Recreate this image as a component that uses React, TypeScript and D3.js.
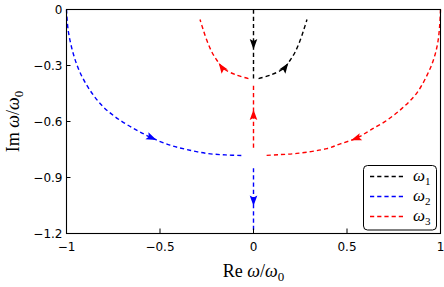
import { useEffect, useRef } from 'react';
import * as d3 from 'd3';

type Pt = [number, number];

// axis ticks
const xTicks = [-1, -0.5, 0, 0.5, 1];
const yTicks = [0, -0.3, -0.6, -0.9, -1.2];

// omega_1 (black)
const omega1Vertical: Pt[] = [[0, 0], [0, -0.37]];
const omega1Arc: Pt[] = [
  [0.027, -0.37], [0.089, -0.352], [0.161, -0.316], [0.196, -0.272],
  [0.223, -0.227], [0.25, -0.164], [0.271, -0.102], [0.286, -0.054],
];

// omega_2 (blue)
const omega2Arc: Pt[] = [
  [-1, 0], [-0.991, -0.111], [-0.964, -0.236], [-0.929, -0.334], [-0.875, -0.432],
  [-0.803, -0.522], [-0.714, -0.593], [-0.625, -0.646], [-0.544, -0.688],
  [-0.446, -0.727], [-0.357, -0.75], [-0.25, -0.771], [-0.15, -0.779], [-0.062, -0.782],
];
const omega2Vertical: Pt[] = [[0, -0.85], [0, -1.2]];

// omega_3 (red)
const omega3Arc: Pt[] = [
  [1, 0], [0.996, -0.08], [0.985, -0.18], [0.964, -0.265], [0.929, -0.35],
  [0.875, -0.445], [0.803, -0.522], [0.714, -0.593], [0.625, -0.646],
  [0.554, -0.688], [0.464, -0.72], [0.393, -0.745], [0.232, -0.771],
  [0.13, -0.778], [0.063, -0.782],
];
const omega3Vertical: Pt[] = [[0, -0.74], [0, -0.4]];
const omega3LeftArc: Pt[] = [
  [-0.027, -0.37], [-0.089, -0.352], [-0.161, -0.316], [-0.196, -0.272],
  [-0.223, -0.227], [-0.25, -0.164], [-0.271, -0.102], [-0.286, -0.054],
];

const seriesNames = ['1', '2', '3'];
const seriesColors = ['#000000', '#0000ff', '#ff0000'];

const App = () => {
  const svgRef = useRef<SVGSVGElement | null>(null);

  useEffect(() => {
    if (!svgRef.current) return;
    const svg = d3.select(svgRef.current);
    svg.selectAll('*').remove();

    const width = 444;
    const height = 287;
    const left = 66.5, right = 440.5, top = 9.5, bottom = 233.5;

    const x = d3.scaleLinear().domain([-1, 1]).range([left, right]);
    const y = d3.scaleLinear().domain([-1.2, 0]).range([bottom, top]);

    svg.attr('width', width).attr('height', height);

    const line = d3.line<Pt>()
      .x((d) => x(d[0]))
      .y((d) => y(d[1]))
      .curve(d3.curveCatmullRom.alpha(0.5));

    // curves drawn in travel direction, arrow tip at a fraction of the length
    const curves = [
      { pts: omega1Vertical, color: seriesColors[0], at: 0.58 },
      { pts: omega1Arc, color: seriesColors[0], at: 0.42 },
      { pts: omega2Arc, color: seriesColors[1], at: 0.66 },
      { pts: omega2Vertical, color: seriesColors[1], at: 0.58 },
      { pts: omega3Arc, color: seriesColors[2], at: 0.66 },
      { pts: omega3Vertical, color: seriesColors[2], at: 0.6 },
      { pts: omega3LeftArc, color: seriesColors[2], at: 0.42 },
    ];

    const plot = svg.append('g');
    curves.forEach((c) => {
      const path = plot.append('path')
        .attr('d', line(c.pts) || '')
        .attr('fill', 'none')
        .attr('stroke', c.color)
        .attr('stroke-width', 1.4)
        .attr('stroke-dasharray', '4.2,3');

      const node = path.node() as SVGPathElement;
      const len = node.getTotalLength();
      const p = node.getPointAtLength(len * c.at);
      const q = node.getPointAtLength(Math.max(0, len * c.at - 2));
      const ang = Math.atan2(p.y - q.y, p.x - q.x) * 180 / Math.PI;
      plot.append('path')
        .attr('d', 'M0,0 L-10.5,-3.8 L-8.5,0 L-10.5,3.8 Z')
        .attr('fill', c.color)
        .attr('transform', `translate(${p.x},${p.y}) rotate(${ang})`);
    });

    // frame
    svg.append('rect')
      .attr('x', left).attr('y', top)
      .attr('width', right - left).attr('height', bottom - top)
      .attr('fill', 'none')
      .attr('stroke', '#000')
      .attr('stroke-width', 1.1);

    const tickFont = '"DejaVu Sans", sans-serif';
    const fmt = (v: number) => (v === 0 ? '0' : (v < 0 ? '\u2212' : '') + String(Math.abs(v)));

    // bottom ticks
    xTicks.forEach((t) => {
      svg.append('line')
        .attr('x1', x(t)).attr('x2', x(t))
        .attr('y1', bottom).attr('y2', bottom - 5)
        .attr('stroke', '#000').attr('stroke-width', 1);
      svg.append('text')
        .attr('x', x(t)).attr('y', bottom + 17)
        .attr('text-anchor', 'middle')
        .attr('font-family', tickFont)
        .attr('font-size', '12px')
        .text(fmt(t));
    });

    // left ticks
    yTicks.forEach((t) => {
      svg.append('line')
        .attr('x1', left).attr('x2', left + 4)
        .attr('y1', y(t)).attr('y2', y(t))
        .attr('stroke', '#000').attr('stroke-width', 1);
      svg.append('text')
        .attr('x', left - 4).attr('y', y(t) + 4.5)
        .attr('text-anchor', 'end')
        .attr('font-family', tickFont)
        .attr('font-size', '12px')
        .text(fmt(t));
    });

    const serif = '"Liberation Serif", "Times New Roman", serif';

    const axisTitle = (g: d3.Selection<SVGTextElement, unknown, null, undefined>, prefix: string) => {
      g.attr('font-family', serif).attr('font-size', '18px').attr('text-anchor', 'middle');
      g.append('tspan').text(prefix + ' ');
      g.append('tspan').attr('font-style', 'italic').text('\u03c9');
      g.append('tspan').text('/');
      g.append('tspan').attr('font-style', 'italic').text('\u03c9');
      g.append('tspan').attr('font-size', '13px').attr('dy', 4).text('0');
    };

    axisTitle(svg.append('text').attr('x', (left + right) / 2).attr('y', 276.5), 'Re');
    axisTitle(
      svg.append('text').attr('transform', `translate(19,${(top + bottom) / 2}) rotate(-90)`),
      'Im'
    );

    // legend
    const lg = svg.append('g');
    lg.append('rect')
      .attr('x', 363.5).attr('y', 165.5)
      .attr('width', 73).attr('height', 64.5)
      .attr('rx', 4)
      .attr('fill', '#fff')
      .attr('stroke', '#000')
      .attr('stroke-width', 1);
    seriesNames.forEach((n, i) => {
      const ly = 176.5 + i * 20;
      lg.append('line')
        .attr('x1', 370).attr('x2', 406)
        .attr('y1', ly).attr('y2', ly)
        .attr('stroke', seriesColors[i])
        .attr('stroke-width', 1.4)
        .attr('stroke-dasharray', '4.2,3');
      const t = lg.append('text')
        .attr('x', 413).attr('y', ly + 4)
        .attr('font-family', serif)
        .attr('font-size', '17px');
      t.append('tspan').attr('font-style', 'italic').text('\u03c9');
      t.append('tspan').attr('font-size', '11px').attr('dy', 4).text(n);
    });
  }, []);

  return (
    <svg ref={svgRef} style={{ position: 'absolute', left: 0, top: 0, background: '#fff' }} />
  );
};

export default App;
